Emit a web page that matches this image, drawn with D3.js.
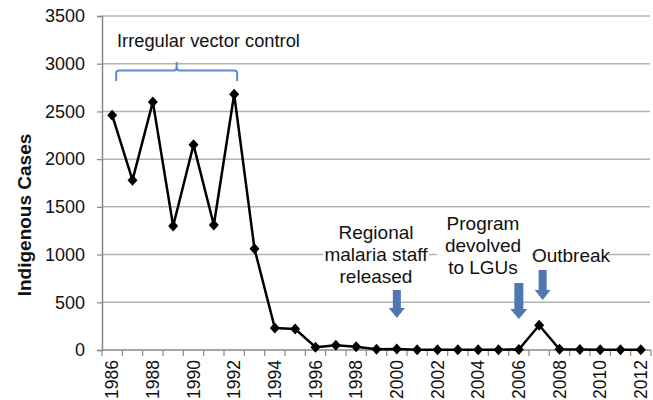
<!DOCTYPE html>
<html>
<head>
<meta charset="UTF-8">
<script src="https://cdn.jsdelivr.net/npm/d3@7"></script>
<style>
body { margin: 0; background: #fff; }
svg text { font-family: "Liberation Sans", Arial, sans-serif; fill: #111; }
</style>
</head>
<body>
<div id="chart"></div>
<script>
// data
var years = d3.range(1986, 2013).map(String);
var cases = [2460, 1780, 2600, 1300, 2150, 1310, 2680, 1060, 230, 220,
             30, 50, 35, 8, 10, 3, 2, 2, 2, 3, 5, 260, 8, 4, 3, 2, 2];
var yTicks = [0, 500, 1000, 1500, 2000, 2500, 3000, 3500];
var xLabels = years.filter(function(d, i) { return i % 2 === 0; });

var width = 653, height = 400;
var svg = d3.select("#chart").append("svg")
  .attr("width", width).attr("height", height);

var x = d3.scaleBand().domain(years).range([102, 651]);
var y = d3.scaleLinear().domain([0, 3500]).range([350, 16]);
var cx = function(yr) { return x(String(yr)) + x.bandwidth() / 2; };

// gridlines
svg.append("g").selectAll("line")
  .data(yTicks.slice(1))
  .enter().append("line")
  .attr("x1", 102).attr("x2", 650)
  .attr("y1", function(d) { return y(d); })
  .attr("y2", function(d) { return y(d); })
  .attr("stroke", "#b3b3b3").attr("stroke-width", 1.5);

// y axis
var yAxis = svg.append("g")
  .attr("transform", "translate(102,0)")
  .call(d3.axisLeft(y).tickValues(yTicks).tickFormat(d3.format("d")).tickSize(5).tickPadding(12));
yAxis.select(".domain").attr("stroke", "#888").attr("stroke-width", 1.5);
yAxis.selectAll(".tick line").attr("stroke", "#888").attr("stroke-width", 1.2);
yAxis.selectAll("text").style("font-size", "18px").attr("fill", "#111");

// x axis: ticks at band edges
var xg = svg.append("g").attr("transform", "translate(0,350)");
xg.append("line").attr("x1", 102).attr("x2", 651)
  .attr("stroke", "#888").attr("stroke-width", 1.5);
xg.selectAll(".tk").data(years.concat(["end"])).enter().append("line")
  .attr("x1", function(d) { return d === "end" ? 651 : x(d); })
  .attr("x2", function(d) { return d === "end" ? 651 : x(d); })
  .attr("y1", 0).attr("y2", 6)
  .attr("stroke", "#888").attr("stroke-width", 1.2);
xg.selectAll(".lbl").data(xLabels).enter().append("text")
  .attr("transform", function(d) { return "translate(" + cx(d) + ",10) rotate(-90)"; })
  .attr("text-anchor", "end")
  .attr("dy", "0.35em")
  .style("font-size", "17.5px")
  .text(function(d) { return d; });

// y axis title
svg.append("text")
  .attr("transform", "translate(24,215) rotate(-90)")
  .attr("text-anchor", "middle")
  .attr("dy", "0.35em")
  .style("font-size", "19px").style("font-weight", "bold")
  .text("Indigenous Cases");

// annotation boxes covering the 1000 gridline
var boxes = [
  {x0: 323, x1: 429, y0: 215, y1: 288},
  {x0: 437, x1: 532, y0: 208, y1: 280},
  {x0: 537, x1: 608, y0: 240, y1: 268}
];
svg.selectAll(".box").data(boxes).enter().append("rect")
  .attr("x", function(d) { return d.x0; })
  .attr("y", function(d) { return d.y0; })
  .attr("width", function(d) { return d.x1 - d.x0; })
  .attr("height", function(d) { return d.y1 - d.y0; })
  .attr("fill", "#fff");

function multiline(lines, cxp, cy0, lh) {
  svg.append("g").selectAll("text").data(lines).enter().append("text")
    .attr("x", cxp).attr("y", function(d, i) { return cy0 + i * lh; })
    .attr("dy", "0.35em")
    .attr("text-anchor", "middle")
    .style("font-size", "19px")
    .text(function(d) { return d; });
}
multiline(["Regional", "malaria staff", "released"], 376, 232, 22);
multiline(["Program", "devolved", "to LGUs"], 483, 223, 22);
multiline(["Outbreak"], 571, 255, 22);

svg.append("text")
  .attr("x", 117).attr("y", 41).attr("dy", "0.35em")
  .style("font-size", "18.3px")
  .text("Irregular vector control");

// brace
var bl = cx(1986) + 4, br = cx(1992) + 3, bm = (bl + br) / 2;
svg.append("path")
  .attr("d", "M" + bl + ",81 L" + bl + ",73 Q" + bl + ",70.5 " + (bl + 3) + ",70.5 L" + (bm - 3) + ",70.5 Q" + bm + ",70.5 " + bm + ",67 L" + bm + ",62" +
             " M" + bm + ",67 Q" + bm + ",70.5 " + (bm + 3) + ",70.5 L" + (br - 3) + ",70.5 Q" + br + ",70.5 " + br + ",73 L" + br + ",81")
  .attr("fill", "none").attr("stroke", "#5b8ccc").attr("stroke-width", 2);

// arrows
var arrows = [
  {yr: 2000, off: 0, top: 290, neck: 308, tip: 318, sw: 8, hw: 16},
  {yr: 2006, off: 0, top: 283, neck: 309, tip: 319, sw: 9, hw: 17},
  {yr: 2007, off: 3.5, top: 270, neck: 290, tip: 300, sw: 8, hw: 16}
];
svg.selectAll(".arrow").data(arrows).enter().append("path")
  .attr("d", function(d) {
    var c = cx(d.yr) + d.off, s = d.sw / 2, h = d.hw / 2;
    return "M" + (c - s) + "," + d.top + "L" + (c + s) + "," + d.top +
      "L" + (c + s) + "," + d.neck + "L" + (c + h) + "," + d.neck +
      "L" + c + "," + d.tip + "L" + (c - h) + "," + d.neck +
      "L" + (c - s) + "," + d.neck + "Z";
  })
  .attr("fill", "#4f78b0");

// line + markers
var pts = years.map(function(d, i) { return [cx(d), y(cases[i])]; });
svg.append("path")
  .attr("d", d3.line()(pts))
  .attr("fill", "none").attr("stroke", "#000").attr("stroke-width", 2.5)
  .attr("stroke-linejoin", "round");
svg.selectAll(".mk").data(pts).enter().append("path")
  .attr("transform", function(d) { return "translate(" + d[0] + "," + d[1] + ")"; })
  .attr("d", "M0,-5.5L5,0L0,5.5L-5,0Z")
  .attr("fill", "#000");
</script>
</body>
</html>
